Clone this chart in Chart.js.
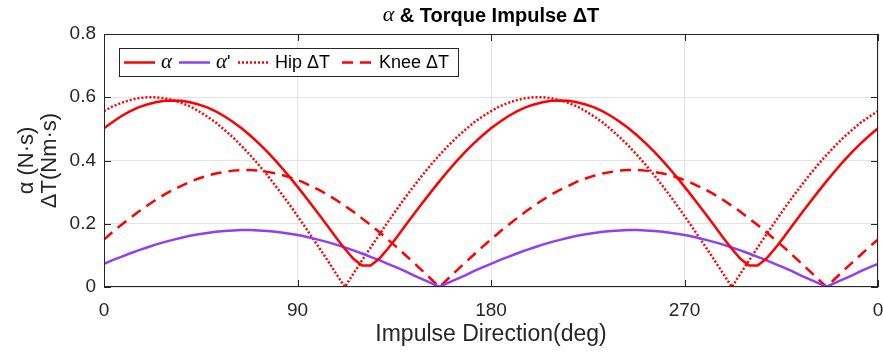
<!DOCTYPE html>
<html lang="en">
<head>
<meta charset="UTF-8">
<title>alpha & Torque Impulse</title>
<script src="https://cdn.jsdelivr.net/npm/chart.js@4.4.1/dist/chart.umd.min.js"></script>
<style>
  html, body { margin: 0; padding: 0; background: #fff; }
  #wrap { width: 883px; height: 353px; }
</style>
</head>
<body>
<div id="wrap"><canvas id="myChart" width="883" height="353"></canvas></div>
<script>
// impulse direction (deg), every 4 deg
const angles = [0,4,8,12,16,20,24,28,32,36,40,44,48,52,56,60,64,68,72,76,80,84,88,92,96,100,104,108,112,116,120,124,128,132,136,140,144,148,152,156,160,164,168,172,176,180,
  184,188,192,196,200,204,208,212,216,220,224,228,232,236,240,244,248,252,256,260,264,268,272,276,280,284,288,292,296,300,304,308,312,316,320,324,328,332,336,340,344,348,352,356,360];

// alpha (N.s)
const alpha = [0.502,0.522,0.540,0.555,0.568,0.577,0.584,0.589,0.590,0.589,0.584,0.577,0.568,0.555,0.540,0.522,0.502,0.479,0.454,0.427,0.398,0.367,0.334,0.300,0.265,0.229,0.193,0.156,0.121,0.089,0.068,0.068,0.089,0.121,0.156,0.193,0.229,0.265,0.300,0.334,0.367,0.398,0.427,0.454,0.479,0.502,
  0.522,0.540,0.555,0.568,0.577,0.584,0.589,0.590,0.589,0.584,0.577,0.568,0.555,0.540,0.522,0.502,0.479,0.454,0.427,0.398,0.367,0.334,0.300,0.265,0.229,0.193,0.156,0.121,0.089,0.068,0.068,0.089,0.121,0.156,0.193,0.229,0.265,0.300,0.334,0.367,0.398,0.427,0.454,0.479,0.502];

// alpha'
const alphaP = [0.073,0.085,0.095,0.106,0.116,0.125,0.134,0.142,0.149,0.156,0.162,0.167,0.171,0.175,0.177,0.179,0.180,0.180,0.179,0.177,0.175,0.171,0.167,0.162,0.156,0.149,0.142,0.134,0.125,0.116,0.106,0.095,0.085,0.073,0.062,0.050,0.037,0.025,0.013,0,0.013,0.025,0.037,0.050,0.062,0.073,
  0.085,0.095,0.106,0.116,0.125,0.134,0.142,0.149,0.156,0.162,0.167,0.171,0.175,0.177,0.179,0.180,0.180,0.179,0.177,0.175,0.171,0.167,0.162,0.156,0.149,0.142,0.134,0.125,0.116,0.106,0.095,0.085,0.073,0.062,0.050,0.037,0.025,0.013,0,0.013,0.025,0.037,0.050,0.062,0.073];

// hip torque impulse (Nm.s)
const hipDT = [0.556,0.571,0.582,0.591,0.597,0.600,0.600,0.597,0.591,0.582,0.571,0.556,0.539,0.520,0.497,0.473,0.446,0.417,0.386,0.353,0.318,0.282,0.244,0.205,0.165,0.125,0.084,0.042,0,0.042,0.084,0.125,0.165,0.205,0.244,0.282,0.318,0.353,0.386,0.417,0.446,0.473,0.497,0.520,0.539,0.556,
  0.571,0.582,0.591,0.597,0.600,0.600,0.597,0.591,0.582,0.571,0.556,0.539,0.520,0.497,0.473,0.446,0.417,0.386,0.353,0.318,0.282,0.244,0.205,0.165,0.125,0.084,0.042,0,0.042,0.084,0.125,0.165,0.205,0.244,0.282,0.318,0.353,0.386,0.417,0.446,0.473,0.497,0.520,0.539,0.556];

// knee torque impulse (Nm.s)
const kneeDT = [0.150,0.174,0.196,0.217,0.238,0.257,0.275,0.292,0.307,0.320,0.333,0.343,0.352,0.359,0.364,0.368,0.370,0.370,0.368,0.364,0.359,0.352,0.343,0.333,0.320,0.307,0.292,0.275,0.257,0.238,0.217,0.196,0.174,0.150,0.127,0.102,0.077,0.052,0.026,0,0.026,0.052,0.077,0.102,0.127,0.150,
  0.174,0.196,0.217,0.238,0.257,0.275,0.292,0.307,0.320,0.333,0.343,0.352,0.359,0.364,0.368,0.370,0.370,0.368,0.364,0.359,0.352,0.343,0.333,0.320,0.307,0.292,0.275,0.257,0.238,0.217,0.196,0.174,0.150,0.127,0.102,0.077,0.052,0.026,0,0.026,0.052,0.077,0.102,0.127,0.150];

const xTicks = [0, 90, 180, 270, 360];
const xTickLabels = ['0', '90', '180', '270', '0'];

function pts(vals) {
  return angles.map(function(a, i) { return { x: a, y: vals[i] }; });
}

const RED = '#ff0000';
const PURPLE = '#8f3ff5';
const AXIS = '#262626';

// legend labels, drawn with an italic alpha
const legendText = [['\u03b1', ''], ['\u03b1', '\''], ['', 'Hip \u0394T'], ['', 'Knee \u0394T']];
// where each legend sample line starts (px)
const legendLineX = [124, 179, 238, 342];

const boxPlugin = {
  id: 'matlabBox',
  afterDraw: function(chart) {
    const ctx = chart.ctx;
    const a = chart.chartArea;
    ctx.save();
    // axes box
    ctx.strokeStyle = AXIS;
    ctx.lineWidth = 1;
    ctx.strokeRect(a.left + 0.5, a.top + 0.5, a.right - a.left - 1, a.bottom - a.top - 1);
    // inward ticks
    const xs = chart.scales.x, ys = chart.scales.y;
    xTicks.forEach(function(t) {
      const px = Math.round(xs.getPixelForValue(t)) + 0.5;
      ctx.beginPath();
      ctx.moveTo(px, a.bottom); ctx.lineTo(px, a.bottom - 7);
      ctx.moveTo(px, a.top); ctx.lineTo(px, a.top + 7);
      ctx.stroke();
    });
    [0, 0.2, 0.4, 0.6, 0.8].forEach(function(t) {
      const py = Math.round(ys.getPixelForValue(t)) + 0.5;
      ctx.beginPath();
      ctx.moveTo(a.left, py); ctx.lineTo(a.left + 7, py);
      ctx.moveTo(a.right, py); ctx.lineTo(a.right - 7, py);
      ctx.stroke();
    });

    // title
    ctx.fillStyle = '#000';
    ctx.textBaseline = 'middle';
    const t1 = '\u03b1';
    const t2 = ' & Torque Impulse \u0394T';
    ctx.font = 'italic 22px "Liberation Serif"';
    const w1 = ctx.measureText(t1).width;
    ctx.font = 'bold 20px "Liberation Sans"';
    const w2 = ctx.measureText(t2).width;
    const tx = (a.left + a.right) / 2 - (w1 + w2) / 2;
    ctx.font = 'italic 22px "Liberation Serif"';
    ctx.fillText(t1, tx, 15);
    ctx.font = 'bold 20px "Liberation Sans"';
    ctx.fillText(t2, tx + w1, 16);

    // legend box
    const lx = 119, ly = 48, lw = 339, lh = 28;
    ctx.fillStyle = '#fff';
    ctx.fillRect(lx, ly, lw, lh);
    ctx.strokeStyle = AXIS;
    ctx.strokeRect(lx + 0.5, ly + 0.5, lw, lh);
    const cy = ly + lh / 2 + 0.5;
    chart.data.datasets.forEach(function(ds, i) {
      let x = legendLineX[i];
      ctx.save();
      ctx.strokeStyle = ds.borderColor;
      ctx.lineWidth = ds.borderWidth;
      ctx.setLineDash(ds.borderDash || []);
      ctx.beginPath();
      ctx.moveTo(x, cy); ctx.lineTo(x + 31, cy);
      ctx.stroke();
      ctx.restore();
      x += 37;
      const parts = legendText[i];
      ctx.fillStyle = '#000';
      if (parts[0]) {
        ctx.font = 'italic 21px "Liberation Serif"';
        ctx.fillText(parts[0], x, cy);
        x += ctx.measureText(parts[0]).width;
      }
      if (parts[1]) {
        ctx.font = '18px "Liberation Sans"';
        ctx.fillText(parts[1], x, cy + 1);
      }
    });
    ctx.restore();
  }
};

const ctx = document.getElementById('myChart').getContext('2d');
const myChart = new Chart(ctx, {
  type: 'line',
  data: {
    datasets: [
      { label: '\u03b1', data: pts(alpha), borderColor: RED, borderWidth: 2.5, pointRadius: 0, fill: false },
      { label: '\u03b1\'', data: pts(alphaP), borderColor: PURPLE, borderWidth: 2.5, pointRadius: 0, fill: false },
      { label: 'Hip \u0394T', data: pts(hipDT), borderColor: RED, borderWidth: 2.5, borderDash: [2, 2], pointRadius: 0, fill: false },
      { label: 'Knee \u0394T', data: pts(kneeDT), borderColor: RED, borderWidth: 2.5, borderDash: [11, 7], pointRadius: 0, fill: false }
    ]
  },
  options: {
    responsive: false,
    animation: false,
    layout: { padding: { top: 34, right: 5, left: 0, bottom: 0 } },
    plugins: {
      legend: { display: false },
      tooltip: { enabled: false }
    },
    scales: {
      x: {
        type: 'linear',
        min: 0, max: 360,
        afterBuildTicks: function(s) { s.ticks = xTicks.map(function(v) { return { value: v }; }); },
        ticks: {
          color: AXIS,
          font: { family: 'Liberation Sans', size: 19 },
          padding: 12,
          maxRotation: 0,
          callback: function(v) { return xTickLabels[xTicks.indexOf(v)]; }
        },
        grid: { color: '#e3e3e3', drawTicks: false },
        border: { display: false },
        title: {
          display: true,
          text: 'Impulse Direction(deg)',
          color: AXIS,
          font: { family: 'Liberation Sans', size: 23 },
          padding: { top: 0, bottom: 5 }
        },
        afterFit: function(s) { s.height = 66; s.paddingLeft = 0; s.paddingRight = 0; }
      },
      y: {
        min: 0, max: 0.8,
        ticks: {
          stepSize: 0.2,
          color: AXIS,
          font: { family: 'Liberation Sans', size: 19 },
          padding: 8,
          callback: function(v) { return Number(v.toFixed(1)).toString(); }
        },
        grid: { color: '#e3e3e3', drawTicks: false },
        border: { display: false },
        title: {
          display: true,
          text: ['\u03b1 (N\u00b7s)', '\u0394T(Nm\u00b7s)'],
          color: AXIS,
          font: { family: 'Liberation Sans', size: 22, lineHeight: 1.05 },
          padding: { top: 15, bottom: 0 }
        },
        afterFit: function(s) { s.width = 104; s.paddingTop = 0; s.paddingBottom = 0; }
      }
    }
  },
  plugins: [boxPlugin]
});
</script>
</body>
</html>
